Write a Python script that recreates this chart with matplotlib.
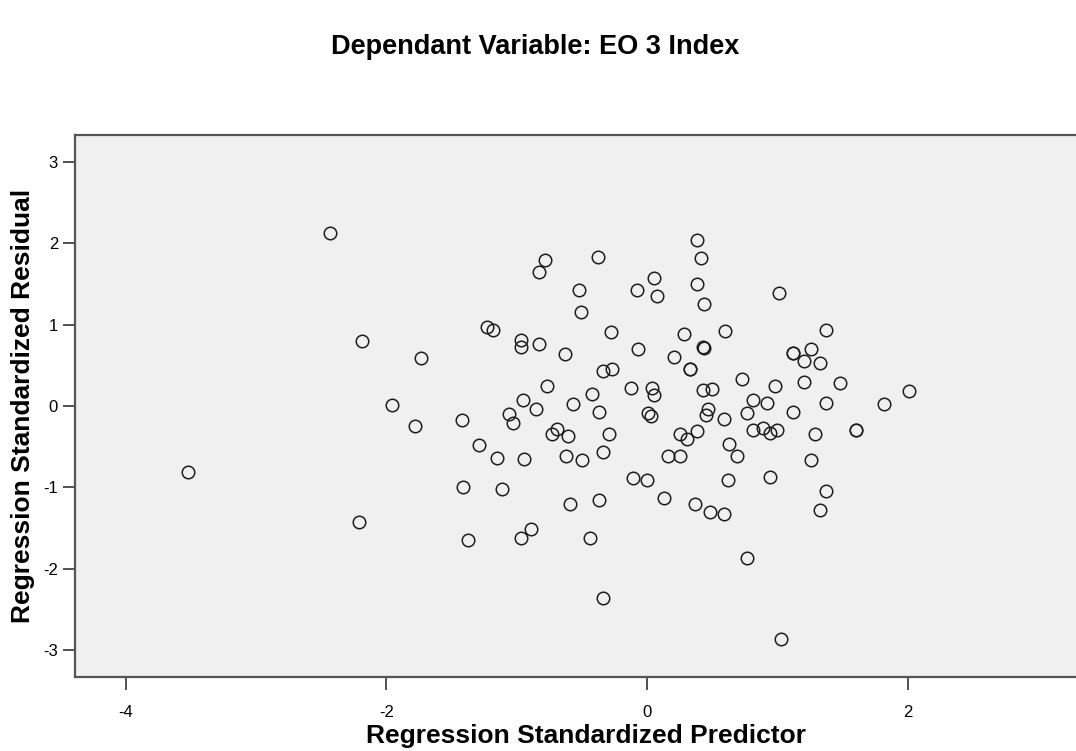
import matplotlib
matplotlib.use("Agg")
from matplotlib import pyplot as plt

# standardized predicted values (x) and standardized residuals (y)
pred = [-2.43, -2.19, -1.73, -1.96, -1.78, -3.52, -2.21, -1.42, -1.29, -1.15,
        -1.11, -1.41, -1.37, -1.23, -1.18, -0.97, -0.97, -0.83, -0.78, -0.83,
        -0.38, -0.52, -0.51, -0.28, -0.63, -0.08, 0.05, 0.08, 0.38, 0.41,
        0.38, 0.44, 0.60, 0.28, 0.43, 0.44, -0.07, 0.21, 0.33, 0.33,
        -0.34, -0.27, -0.77, -0.12, 0.04, 0.05, 0.43, 0.50, -0.42, -0.95,
        1.01, 1.37, 1.12, 1.12, 1.26, 1.20, 1.33, 0.73, 0.98, 1.20,
        1.48, 2.01, -1.06, -1.03, -0.85, -0.57, -0.37, -0.94, -0.73, -0.69,
        -0.61, -0.29, -0.62, -0.50, -0.34, -0.59, -0.37, -0.97, -0.89, -0.44,
        -0.34, 0.01, 0.03, 0.25, 0.31, 0.38, 0.47, 0.45, 0.59, 0.63,
        0.16, 0.25, -0.11, 0.00, 0.62, 0.13, 0.37, 0.48, 0.59, 0.77,
        0.81, 0.92, 0.77, 1.12, 1.37, 1.82, 0.81, 0.89, 0.94, 1.00,
        1.29, 1.60, 1.60, 0.69, 1.26, 0.94, 1.37, 1.33, 1.03]
resid = [2.13, 0.80, 0.59, 0.01, -0.25, -0.81, -1.43, -0.17, -0.48, -0.64,
         -1.02, -0.99, -1.65, 0.97, 0.93, 0.81, 0.72, 0.76, 1.79, 1.65,
         1.83, 1.43, 1.15, 0.91, 0.64, 1.43, 1.57, 1.35, 2.04, 1.82,
         1.50, 1.25, 0.92, 0.88, 0.72, 0.71, 0.70, 0.60, 0.46, 0.46,
         0.43, 0.45, 0.25, 0.22, 0.22, 0.13, 0.20, 0.21, 0.15, 0.07,
         1.39, 0.93, 0.65, 0.65, 0.70, 0.55, 0.53, 0.33, 0.25, 0.30,
         0.28, 0.19, -0.10, -0.21, -0.04, 0.03, -0.07, -0.65, -0.34, -0.28,
         -0.37, -0.34, -0.62, -0.66, -0.56, -1.20, -1.15, -1.62, -1.51, -1.62,
         -2.36, -0.09, -0.12, -0.34, -0.41, -0.31, -0.04, -0.11, -0.16, -0.47,
         -0.62, -0.62, -0.88, -0.91, -0.91, -1.13, -1.20, -1.30, -1.33, -1.87,
         0.07, 0.04, -0.08, -0.07, 0.04, 0.02, -0.29, -0.27, -0.33, -0.30,
         -0.34, -0.29, -0.29, -0.62, -0.66, -0.87, -1.04, -1.28, -2.86]

xticks = [-4, -2, 0, 2]
yticks = [-3, -2, -1, 0, 1, 2, 3]

plt.rcParams['font.family'] = ['Liberation Sans', 'DejaVu Sans']

fig = plt.figure(figsize=(10.76, 7.51), dpi=100)
ax = fig.add_axes([0.0694, 0.0985, 0.950, 0.7217])
ax.set_facecolor('#f0f0f0')

ax.plot(pred, resid, linestyle='none', marker='o', markersize=9.0,
        markerfacecolor='none', markeredgecolor='#1e1e1e', markeredgewidth=1.1)

ax.set_xlim(-4.39, 3.45)
ax.set_ylim(-3.33, 3.33)
ax.set_xticks(xticks)
ax.set_yticks(yticks)
ax.set_xticklabels([str(t) for t in xticks])
ax.set_yticklabels([str(t) for t in yticks])
ax.tick_params(direction='out', length=9, width=1.2, color='#333333',
               labelsize=12, pad=3)
ax.tick_params(axis='x', pad=11)

for side in ['left', 'top', 'bottom']:
    ax.spines[side].set_color('#555555')
    ax.spines[side].set_linewidth(1.6)
ax.spines['right'].set_visible(False)

ax.set_xlabel('Regression Standardized Predictor', fontsize=19, fontweight='bold', labelpad=3)
ax.set_ylabel('Regression Standardized Residual', fontsize=19, fontweight='bold', labelpad=6)

fig.text(0.497, 0.937, 'Dependant Variable: EO 3 Index', ha='center', va='center',
         fontsize=19.5, fontweight='bold')

plt.savefig('out.png', dpi=100)
